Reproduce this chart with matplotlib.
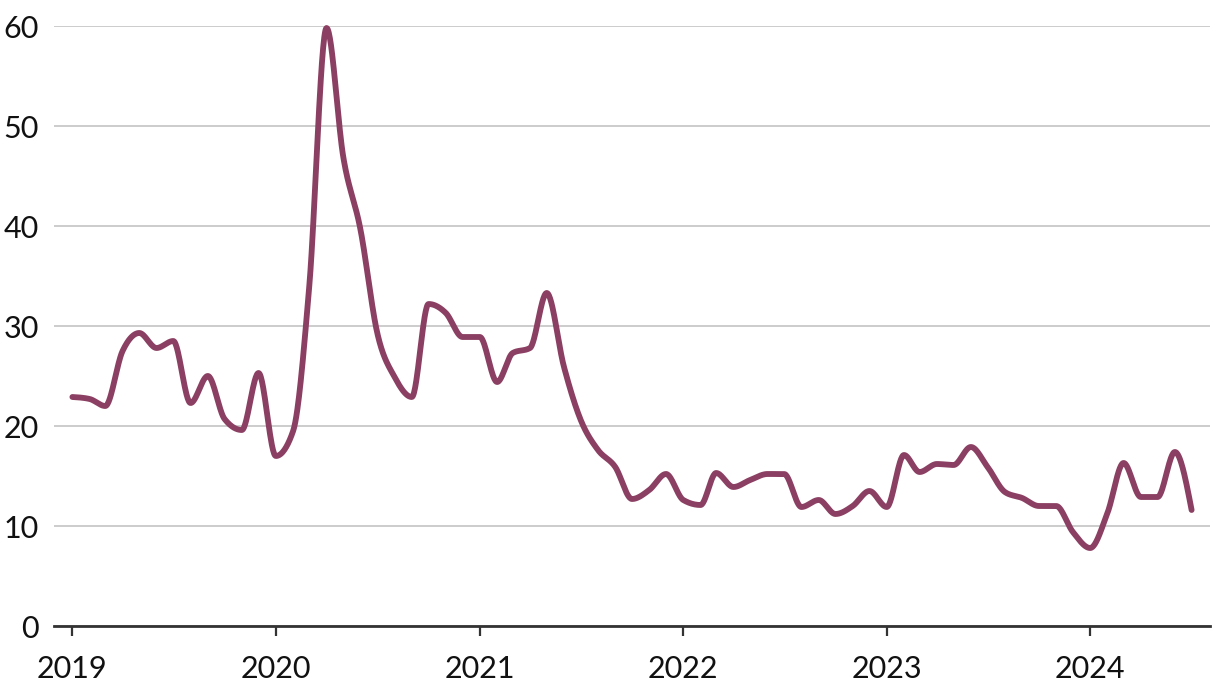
import numpy as np
import pandas as pd
import matplotlib
matplotlib.use("Agg")
import matplotlib.pyplot as plt
import matplotlib.dates as mdates

# monthly values, Jan 2019 .. Jul 2024
months = pd.date_range("2019-01-01", "2024-07-01", freq="MS")
values = [
    22.9, 22.7, 22.0, 27.5, 29.3, 27.8, 28.5, 22.3, 25.0, 20.7, 19.6, 25.3,
    17.0, 19.5, 34.0, 59.8, 46.9, 39.6, 29.3, 24.9, 22.9, 32.2, 31.3, 28.9,
    28.9, 24.4, 27.3, 27.8, 33.3, 25.9, 20.6, 17.6, 15.9, 12.7, 13.6, 15.2,
    12.6, 12.1, 15.3, 13.9, 14.6, 15.2, 15.2, 11.9, 12.6, 11.2, 12.0, 13.5,
    11.9, 17.1, 15.4, 16.2, 16.1, 17.9, 15.9, 13.4, 12.8, 12.0, 12.0, 9.4,
    7.8, 11.3, 16.3, 12.9, 12.9, 17.4, 11.6,
]
year_ticks = [2019, 2020, 2021, 2022, 2023, 2024]
y_ticks = [0, 10, 20, 30, 40, 50, 60]

LINE = "#8b3f62"


def monotone_x(x, y, n=30):
    # d3 curveMonotoneX style (Steffen slopes)
    x = np.asarray(x, float)
    y = np.asarray(y, float)
    h = np.diff(x)
    s = np.diff(y) / h
    t = np.zeros_like(y)
    for i in range(1, len(y) - 1):
        p = (s[i - 1] * h[i] + s[i] * h[i - 1]) / (h[i - 1] + h[i])
        t[i] = (np.sign(s[i - 1]) + np.sign(s[i])) * min(abs(s[i - 1]), abs(s[i]), 0.5 * abs(p))
    t[0] = (3 * s[0] - t[1]) / 2
    t[-1] = (3 * s[-1] - t[-2]) / 2
    xs, ys = [], []
    for i in range(len(h)):
        u = np.linspace(0, 1, n, endpoint=False)
        h00 = 2 * u**3 - 3 * u**2 + 1
        h10 = u**3 - 2 * u**2 + u
        h01 = -2 * u**3 + 3 * u**2
        h11 = u**3 - u**2
        xs.append(x[i] + u * h[i])
        ys.append(h00 * y[i] + h10 * h[i] * t[i] + h01 * y[i + 1] + h11 * h[i] * t[i + 1])
    xs.append([x[-1]])
    ys.append([y[-1]])
    return np.concatenate(xs), np.concatenate(ys)


plt.rcParams["font.family"] = ["Lato", "DejaVu Sans"]

fig = plt.figure(figsize=(12.2, 6.92), dpi=100)
ax = fig.add_axes([54 / 1220, 66 / 692, 1156 / 1220, 600 / 692])

xnum = mdates.date2num(months.to_pydatetime())
xs, ys = monotone_x(xnum, values)
ax.plot(xs, ys, color=LINE, lw=4.2, solid_capstyle="round", solid_joinstyle="round",
        clip_on=False, zorder=3)

ax.set_ylim(0, 60)
ax.set_xlim(mdates.date2num(pd.Timestamp("2018-11-29")), mdates.date2num(pd.Timestamp("2024-08-03")))
ax.set_yticks(y_ticks)
ax.set_xticks([mdates.date2num(pd.Timestamp(f"{yr}-01-01")) for yr in year_ticks])
ax.set_xticklabels([str(yr) for yr in year_ticks])

ax.grid(axis="y", color="#cccccc", lw=1.4)
ax.set_axisbelow(True)
for sp in ["top", "right", "left"]:
    ax.spines[sp].set_visible(False)
ax.spines["bottom"].set_color("#333333")
ax.spines["bottom"].set_linewidth(2)
ax.spines["bottom"].set_zorder(4)

ax.tick_params(axis="y", length=0, pad=11, labelsize=22, labelcolor="#111111")
ax.tick_params(axis="x", length=7, width=1.6, color="#333333", pad=14,
               labelsize=22, labelcolor="#111111")

fig.savefig("out.png", dpi=100)
